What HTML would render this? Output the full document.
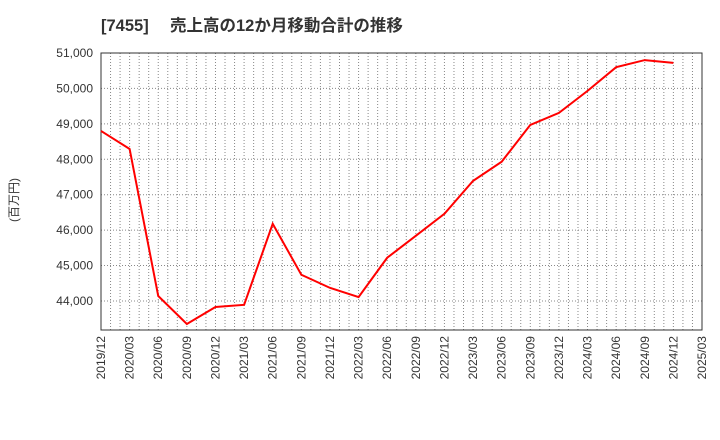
<!DOCTYPE html>
<html><head><meta charset="utf-8"><style>
body{margin:0;background:#fff;}
svg{display:block;font-family:"Liberation Sans","Noto Sans CJK JP",sans-serif;}
</style></head><body>
<svg id="c" width="720" height="440">
<text y="31" font-size="16.5" font-weight="bold" fill="#333"><tspan x="101">[7455]</tspan><tspan x="170">売上高の12か月移動合計の推移</tspan></text>
<text transform="translate(18,200) rotate(-90)" text-anchor="middle" font-size="12" fill="#333">(百万円)</text>
<g id="grid"></g><g id="axes"></g><g id="series"></g>
</svg>
<script>
const categories=["2019/12","2020/03","2020/06","2020/09","2020/12","2021/03","2021/06","2021/09","2021/12","2022/03","2022/06","2022/09","2022/12","2023/03","2023/06","2023/09","2023/12","2024/03","2024/06","2024/09","2024/12"];
const values=[48800,48290,44140,43350,43830,43890,46180,44740,44370,44110,45220,45840,46460,47390,47930,48970,49310,49930,50600,50800,50720];
const xTickLabels=["2019/12","2020/03","2020/06","2020/09","2020/12","2021/03","2021/06","2021/09","2021/12","2022/03","2022/06","2022/09","2022/12","2023/03","2023/06","2023/09","2023/12","2024/03","2024/06","2024/09","2024/12","2025/03"];
const yTicks=[44000,45000,46000,47000,48000,49000,50000,51000];
const L=101,R=702,T=53,B=330,yMax=51000,yMin=43180;
const NS="http://www.w3.org/2000/svg";
const xq=i=>L+i*(R-L)/21;
const y=v=>T+(yMax-v)/(yMax-yMin)*(B-T);
function mk(tag,attrs,parent){const e=document.createElementNS(NS,tag);for(const k in attrs)e.setAttribute(k,attrs[k]);document.getElementById(parent).appendChild(e);return e;}
for(let m=1;m<63;m++){const x=L+m*(R-L)/63;
const g=mk('line',{x1:x,x2:x,y1:T,y2:B,stroke:'#888','stroke-dasharray':'1,2','stroke-width':1},'grid');

}
yTicks.forEach(v=>{const yy=y(v);
const g=mk('line',{x1:L,x2:R,y1:yy,y2:yy,stroke:'#888','stroke-dasharray':'1,2'},'grid');


const t=mk('text',{x:L-8,y:yy+4,'text-anchor':'end','font-size':12,fill:'#333'},'axes');t.textContent=v.toLocaleString('en-US');

});
const fr=mk('rect',{x:L,y:T,width:R-L,height:B-T,fill:'none',stroke:'#333'},'axes');


xTickLabels.forEach((s,i)=>{const x=xq(i);
const t=mk('text',{transform:`translate(${x+4},${B+6}) rotate(-90)`,'text-anchor':'end','font-size':12,fill:'#333'},'axes');t.textContent=s;

});
const p=mk('polyline',{points:values.map((v,i)=>xq(i)+','+y(v)).join(' '),fill:'none',stroke:'#f00','stroke-width':2},'series');


</script>
</body></html>
